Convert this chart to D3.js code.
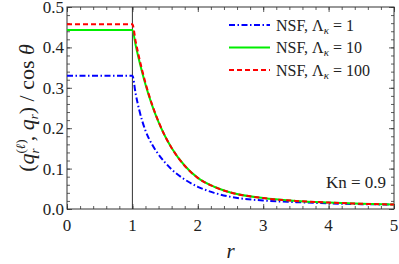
<!DOCTYPE html>
<html>
<head>
<meta charset="utf-8">
<script src="https://cdn.jsdelivr.net/npm/d3@7"></script>
<style>
  body { margin: 0; background: #fff; }
  svg text { font-family: "Liberation Serif", "DejaVu Serif", serif; }
</style>
</head>
<body>
<div id="chart"></div>
<script>
// radial positions and heat flux values
const rValues = [0, 1, 1.05, 1.1, 1.15, 1.2, 1.3, 1.4, 1.5, 1.6, 1.8, 2.0, 2.25, 2.5, 3.0, 3.5, 4.0, 4.5, 5.0]
const fluxLambda1 = [0.330, 0.330, 0.285, 0.248, 0.218, 0.194, 0.160, 0.135, 0.115, 0.098, 0.073, 0.055, 0.040, 0.030, 0.021, 0.017, 0.014, 0.012, 0.011]
const fluxLambda10 = [0.443, 0.443, 0.405, 0.370, 0.338, 0.308, 0.257, 0.215, 0.180, 0.151, 0.107, 0.077, 0.055, 0.041, 0.027, 0.020, 0.016, 0.013, 0.011]
const fluxLambda100 = [0.457, 0.457, 0.415, 0.377, 0.343, 0.312, 0.259, 0.216, 0.180, 0.151, 0.107, 0.077, 0.055, 0.041, 0.027, 0.020, 0.016, 0.013, 0.011]
const legendLabels = ['1', '10', '100']
const xTicks = [0, 1, 2, 3, 4, 5]
const yTicks = [0, 0.1, 0.2, 0.3, 0.4, 0.5]

const width = 399
const height = 264
const margin = { left: 67, right: 5, top: 7, bottom: 55 }

const series = [
  { values: fluxLambda1, color: '#0000ff', dash: '6,2.5,1.5,2.5', label: legendLabels[0] },
  { values: fluxLambda10, color: '#00ee00', dash: null, label: legendLabels[1] },
  { values: fluxLambda100, color: '#ff0000', dash: '5,3', label: legendLabels[2] }
]

const svg = d3.select('#chart').append('svg')
  .attr('width', width)
  .attr('height', height)

const x = d3.scaleLinear().domain([0, 5]).range([margin.left, width - margin.right])
const y = d3.scaleLinear().domain([0, 0.5]).range([height - margin.bottom, margin.top])

const frameColor = '#333'
const minorX = d3.range(0, 5.001, 0.2)
const minorY = d3.range(0, 0.5001, 0.02)

// frame ticks on all four sides, pointing inwards
function frameTicks(axisFn, scale, major, minor, offset) {
  const g = svg.append('g').attr('transform', offset)
  g.append('g').call(axisFn(scale).tickValues(minor).tickSize(3).tickFormat(''))
  g.append('g').call(axisFn(scale).tickValues(major).tickSize(5).tickFormat(''))
}
frameTicks(d3.axisTop, x, xTicks, minorX, `translate(0,${y(0)})`)
frameTicks(d3.axisBottom, x, xTicks, minorX, `translate(0,${y(0.5)})`)
frameTicks(d3.axisRight, y, yTicks, minorY, `translate(${x(0)},0)`)
frameTicks(d3.axisLeft, y, yTicks, minorY, `translate(${x(5)},0)`)

svg.selectAll('.domain').remove()
svg.selectAll('.tick line').attr('stroke', frameColor).attr('stroke-width', 0.8)

svg.append('g').selectAll('text').data(xTicks).join('text')
  .attr('x', d => x(d))
  .attr('y', y(0) + 22)
  .attr('text-anchor', 'middle')
  .attr('font-size', 17)
  .attr('fill', '#222')
  .text(d => d)

svg.append('g').selectAll('text').data(yTicks).join('text')
  .attr('x', x(0) - 3)
  .attr('y', d => y(d) + 6)
  .attr('text-anchor', 'end')
  .attr('font-size', 17)
  .attr('fill', '#222')
  .text(d => d.toFixed(1))

svg.append('rect')
  .attr('x', x(0)).attr('y', y(0.5))
  .attr('width', x(5) - x(0)).attr('height', y(0) - y(0.5))
  .attr('fill', 'none')
  .attr('stroke', frameColor)
  .attr('stroke-width', 1)

// vertical line at r = 1
svg.append('line')
  .attr('x1', x(1)).attr('x2', x(1))
  .attr('y1', y(0)).attr('y2', y(0.5))
  .attr('stroke', frameColor)
  .attr('stroke-width', 1)

const line = d3.line()
  .x((d, i) => x(rValues[i]))
  .y(d => y(d))
  .curve(d3.curveMonotoneX)

svg.append('g').selectAll('path').data(series).join('path')
  .attr('d', d => line(d.values))
  .attr('fill', 'none')
  .attr('stroke', d => d.color)
  .attr('stroke-width', 2)
  .attr('stroke-dasharray', d => d.dash)

// legend
const legend = svg.append('g')
series.forEach((s, i) => {
  const ly = 25 + i * 22.5
  legend.append('line')
    .attr('x1', 229).attr('x2', 270)
    .attr('y1', ly).attr('y2', ly)
    .attr('stroke', s.color)
    .attr('stroke-width', 2)
    .attr('stroke-dasharray', s.dash)
  const t = legend.append('text')
    .attr('x', 276)
    .attr('y', ly + 5.5)
    .attr('font-size', 16)
    .attr('fill', '#222')
  t.append('tspan').text('NSF, Λ')
  t.append('tspan').attr('font-size', 11).attr('font-style', 'italic').attr('dy', 3).text('κ')
  t.append('tspan').attr('dy', -3).text(' = ' + s.label)
})

svg.append('text')
  .attr('x', 386)
  .attr('y', 188)
  .attr('text-anchor', 'end')
  .attr('font-size', 17)
  .attr('fill', '#222')
  .text('Kn = 0.9')

// axis titles
svg.append('text')
  .attr('x', (x(0) + x(5)) / 2)
  .attr('y', 258)
  .attr('text-anchor', 'middle')
  .attr('font-size', 21)
  .attr('font-style', 'italic')
  .attr('fill', '#222')
  .text('r')

const yt = svg.append('text')
  .attr('transform', `translate(34,${(y(0) + y(0.5)) / 2}) rotate(-90)`)
  .attr('text-anchor', 'middle')
  .attr('font-size', 22)
  .attr('fill', '#222')
yt.append('tspan').text('(')
yt.append('tspan').attr('font-style', 'italic').text('q')
yt.append('tspan').attr('font-size', 13).attr('dy', -9).text('(')
yt.append('tspan').attr('font-size', 13).attr('font-style', 'italic').text('ℓ')
yt.append('tspan').attr('font-size', 13).text(')')
yt.append('tspan').attr('font-size', 13).attr('font-style', 'italic').attr('dx', -14).attr('dy', 14).text('r')
yt.append('tspan').attr('dx', 7).attr('dy', -5).text(', ')
yt.append('tspan').attr('font-style', 'italic').text('q')
yt.append('tspan').attr('font-size', 13).attr('font-style', 'italic').attr('dy', 4).text('r')
yt.append('tspan').attr('dy', -4).text(') / cos ')
yt.append('tspan').attr('font-style', 'italic').text('θ')
</script>
</body>
</html>
